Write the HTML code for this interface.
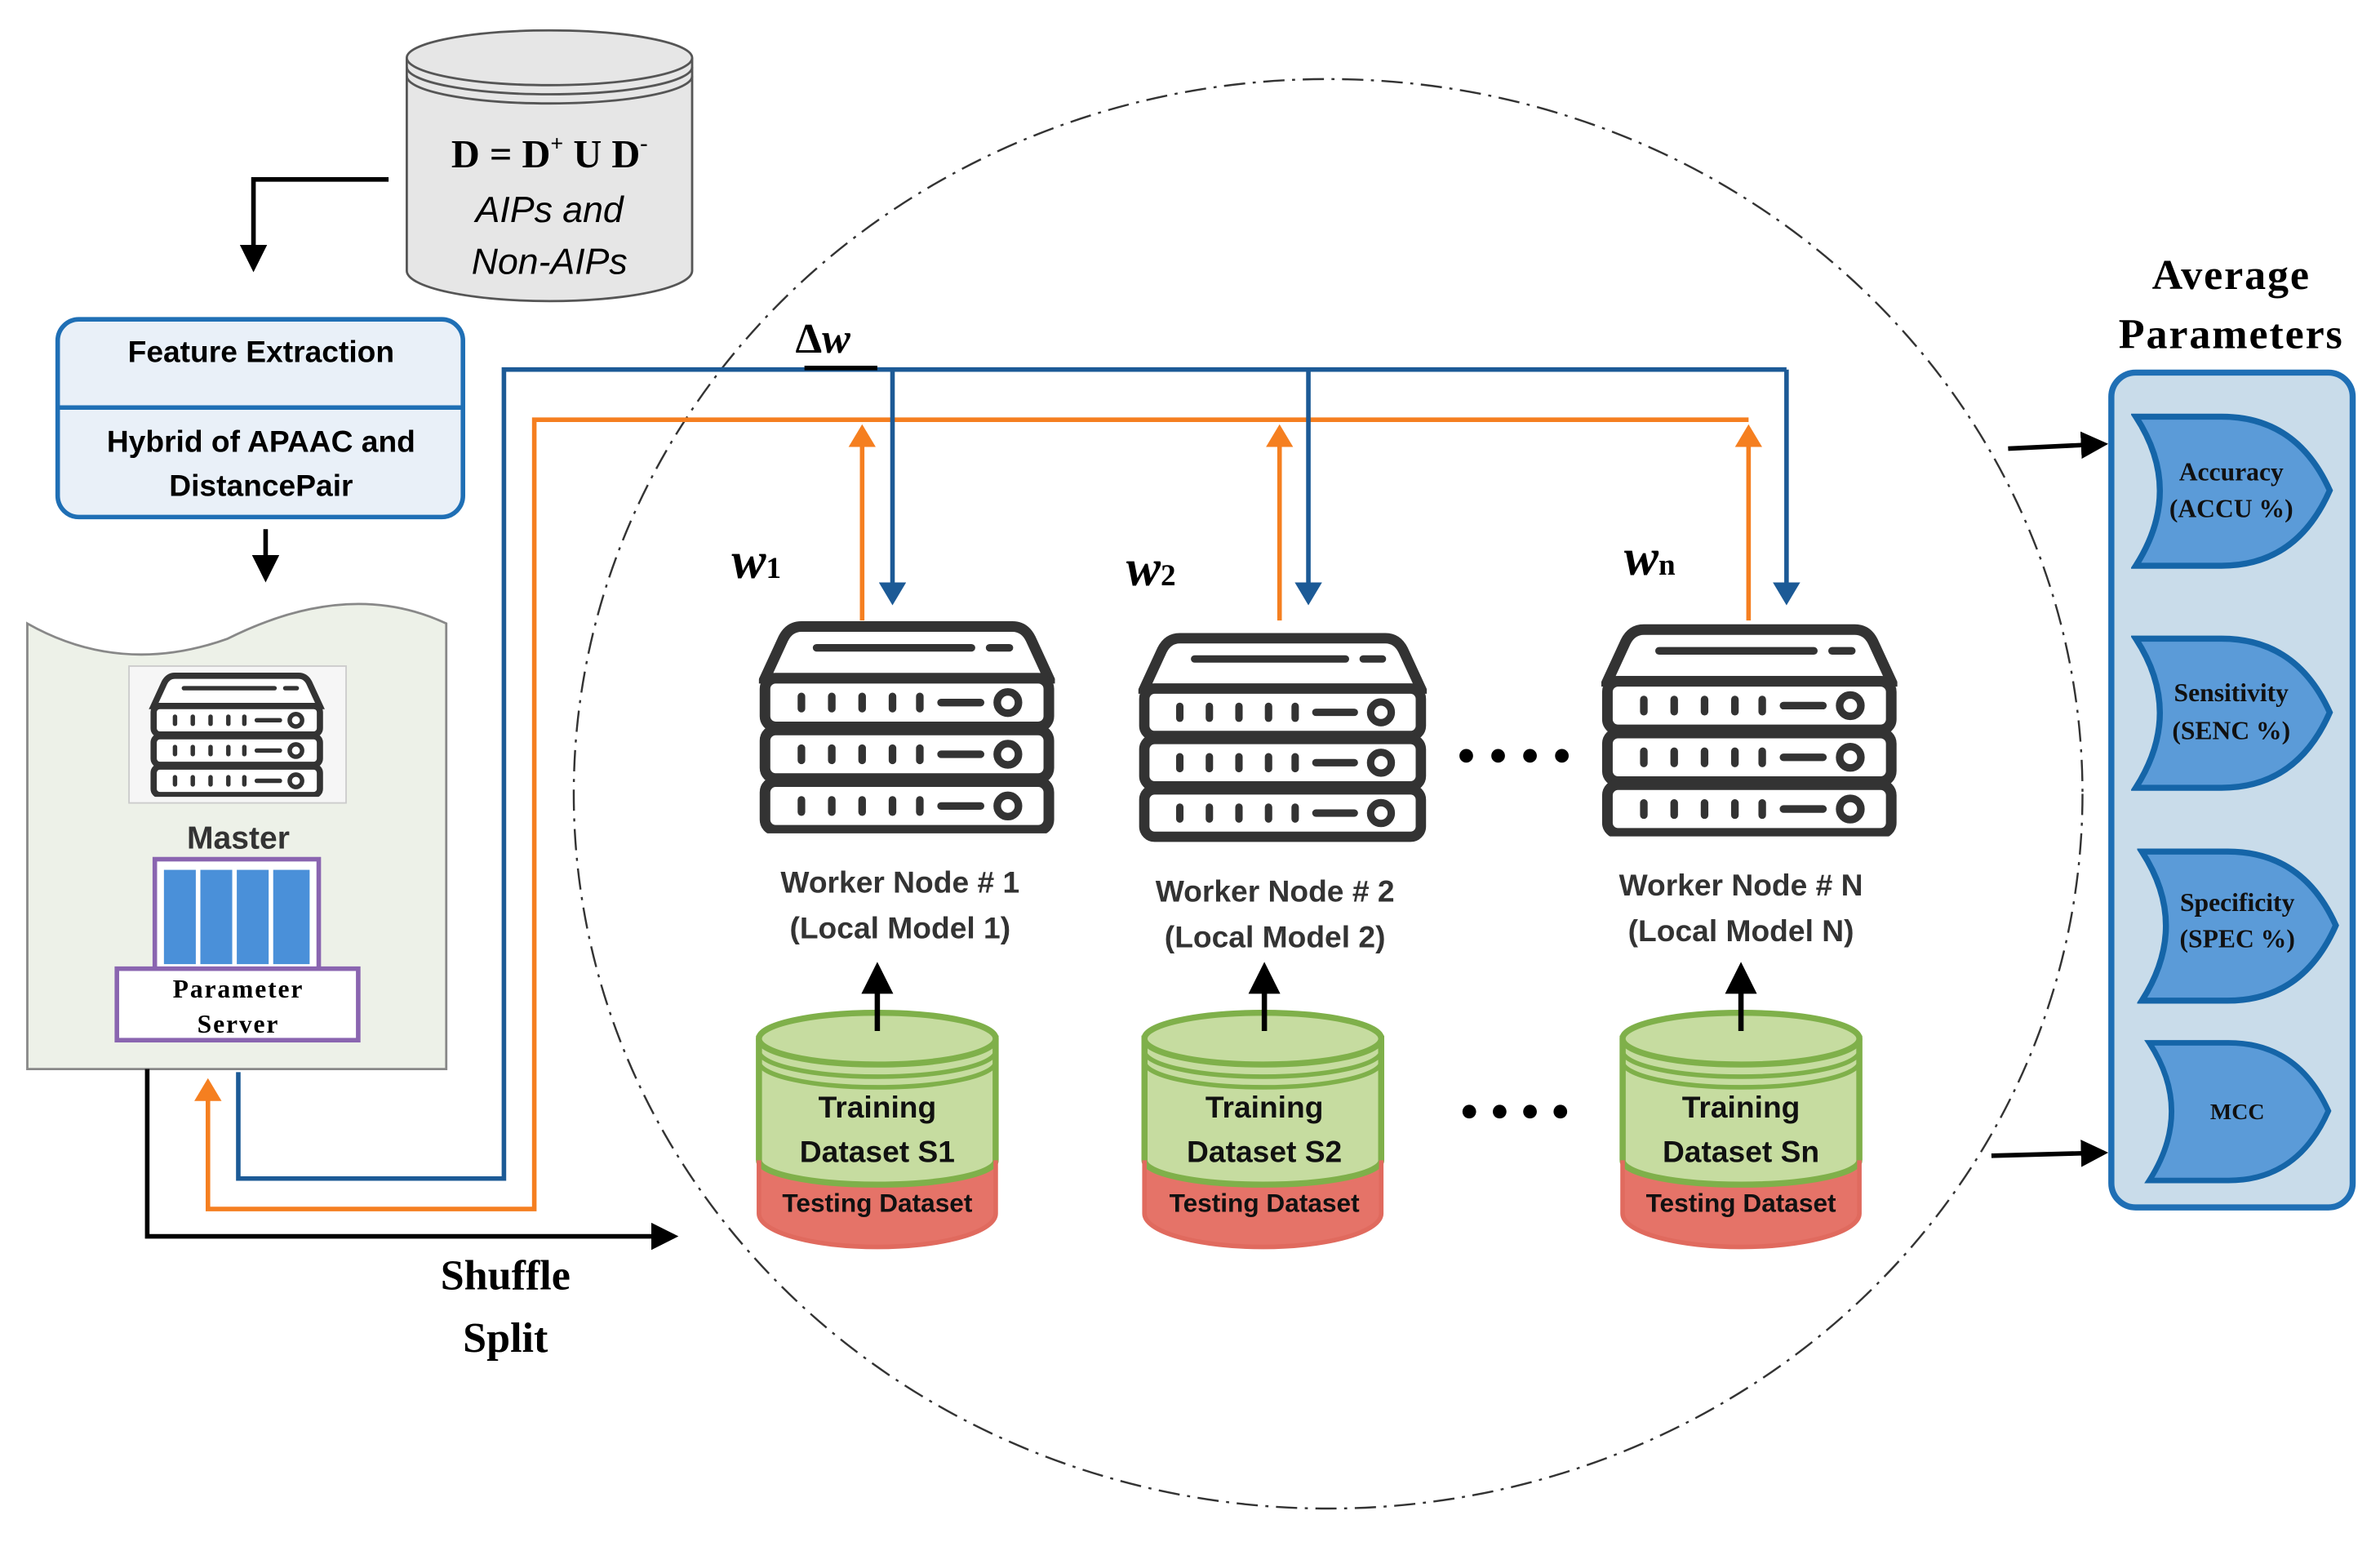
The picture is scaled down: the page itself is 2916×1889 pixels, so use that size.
<!DOCTYPE html>
<html><head><meta charset="utf-8"><style>
html,body{margin:0;padding:0;background:#fff}
svg{display:block}
text{font-family:"Liberation Sans",sans-serif}
.serif{font-family:"Liberation Serif",serif}
</style></head><body>
<svg width="2916" height="1889" viewBox="0 0 1568 1014" preserveAspectRatio="none" xmlns="http://www.w3.org/2000/svg">
<defs>
<marker id="ak" markerWidth="6" markerHeight="6" refX="5" refY="3" orient="auto" markerUnits="strokeWidth"><path d="M0,0 L6,3 L0,6 z" fill="#000"/></marker>
<marker id="ab" markerWidth="5" markerHeight="6" refX="4" refY="3" orient="auto" markerUnits="strokeWidth"><path d="M0,0 L5,3 L0,6 z" fill="#1c5a96"/></marker>
<marker id="ao" markerWidth="5" markerHeight="6" refX="4" refY="3" orient="auto" markerUnits="strokeWidth"><path d="M0,0 L5,3 L0,6 z" fill="#f57f20"/></marker>
<symbol id="srv" viewBox="0 0 195 140">
 <g fill="#fff" stroke="#333" stroke-width="7">
  <path d="M28,4 H167 Q175,4 179,12 L191,38 H4 L16,12 Q20,4 28,4 Z"/>
  <rect x="4" y="38" width="187" height="32" rx="7"/>
  <rect x="4" y="72" width="187" height="32" rx="7"/>
  <rect x="4" y="106" width="187" height="32" rx="7"/>
 </g>
 <g stroke="#333" stroke-width="5" stroke-linecap="round">
  <line x1="38" y1="18" x2="140" y2="18"/><line x1="152" y1="18" x2="165" y2="18"/>
  <g id="dl"><line x1="28" y1="50" x2="28" y2="58"/><line x1="48" y1="50" x2="48" y2="58"/><line x1="68" y1="50" x2="68" y2="58"/><line x1="88" y1="50" x2="88" y2="58"/><line x1="106" y1="50" x2="106" y2="58"/><line x1="120" y1="54" x2="146" y2="54"/></g>
  <use href="#dl" y="34"/><use href="#dl" y="68"/>
 </g>
 <g fill="none" stroke="#333" stroke-width="5"><circle cx="164" cy="54" r="7"/><circle cx="164" cy="88" r="7"/><circle cx="164" cy="122" r="7"/></g>
</symbol>
<symbol id="cyl" viewBox="0 0 160 160">
 <path d="M2,20 V135 A78,22 0 0 0 158,135 V20 Z" fill="#e57368"/>
 <path d="M2,20 V100 A78,16 0 0 0 158,100 V20 Z" fill="#c6dca0" stroke="#7fb04a" stroke-width="4"/>
 <path d="M2,20 V135 A78,22 0 0 0 158,135 V20" fill="none" stroke="#e06a5e" stroke-width="3"/>
 <path d="M2,20 V100" stroke="#7fb04a" stroke-width="4"/><path d="M158,20 V100" stroke="#7fb04a" stroke-width="4"/>
 <ellipse cx="80" cy="20" rx="78" ry="17" fill="#c6dca0" stroke="#7fb04a" stroke-width="4"/>
 <path d="M2,28 A78,17 0 0 0 158,28 M2,35 A78,17 0 0 0 158,35" fill="none" stroke="#7fb04a" stroke-width="3"/>
</symbol>
<symbol id="gate" viewBox="0 0 135 105">
 <path d="M3,3 H60 Q110,3 132,52 Q110,102 60,102 H3 Q35,52 3,3 Z" fill="#5b9bd8" stroke="#1565a8" stroke-width="4"/>
</symbol>
</defs>

<ellipse cx="875" cy="522" rx="497" ry="470" fill="none" stroke="#333" stroke-width="1.3" stroke-dasharray="14,5,2,5"/>

<path d="M268,38 V178 A94,20 0 0 0 456,178 V38" fill="#e6e6e6" stroke="#555" stroke-width="1.5"/>
<ellipse cx="362" cy="38" rx="94" ry="18" fill="#e6e6e6" stroke="#555" stroke-width="1.5"/>
<path d="M268,44 A94,18 0 0 0 456,44 M268,50 A94,18 0 0 0 456,50" fill="none" stroke="#555" stroke-width="1.5"/>
<text x="362" y="110" text-anchor="middle" class="serif" font-weight="bold" font-size="26">D = D<tspan font-size="15" dy="-11">+</tspan><tspan dy="11"> U D</tspan><tspan font-size="15" dy="-11">-</tspan></text>
<text x="362" y="146" text-anchor="middle" font-style="italic" font-size="24">AIPs and</text>
<text x="362" y="180" text-anchor="middle" font-style="italic" font-size="24">Non-AIPs</text>
<path d="M256,118 H167 V176" fill="none" stroke="#000" stroke-width="3" marker-end="url(#ak)"/>

<rect x="38" y="210" width="267" height="130" rx="14" fill="#e9f0f8" stroke="#1f6fb5" stroke-width="3"/>
<line x1="38" y1="268" x2="305" y2="268" stroke="#1f6fb5" stroke-width="3"/>
<text x="172" y="238" text-anchor="middle" font-weight="bold" font-size="20">Feature Extraction</text>
<text x="172" y="297" text-anchor="middle" font-weight="bold" font-size="20">Hybrid of APAAC and</text>
<text x="172" y="326" text-anchor="middle" font-weight="bold" font-size="20">DistancePair</text>
<line x1="175" y1="348" x2="175" y2="380" stroke="#000" stroke-width="3" marker-end="url(#ak)"/>

<path d="M18,410 Q80,445 150,420 Q230,380 294,410 V703 H18 Z" fill="#edf1e8" stroke="#888" stroke-width="1.5"/>
<rect x="85" y="438" width="143" height="90" fill="#f6f6f6" stroke="#ccc"/>
<use href="#srv" x="92" y="442" width="128" height="82"/>
<text x="157" y="558" text-anchor="middle" font-weight="bold" font-size="21" fill="#333">Master</text>
<rect x="102" y="565" width="108" height="73" fill="#fff" stroke="#8a65b0" stroke-width="3"/>
<rect x="108" y="572" width="21" height="62" fill="#4a90d9"/><rect x="132" y="572" width="21" height="62" fill="#4a90d9"/><rect x="156" y="572" width="21" height="62" fill="#4a90d9"/><rect x="180" y="572" width="24" height="62" fill="#4a90d9"/>
<rect x="77" y="637" width="159" height="47" fill="#fff" stroke="#8a65b0" stroke-width="3"/>
<text x="157" y="656" text-anchor="middle" class="serif" font-weight="bold" font-size="17" letter-spacing="1">Parameter</text>
<text x="157" y="679" text-anchor="middle" class="serif" font-weight="bold" font-size="17" letter-spacing="1">Server</text>

<path d="M97,703 V813 H444" fill="none" stroke="#000" stroke-width="3" marker-end="url(#ak)"/>
<path d="M1152,276 H352 V795 H137 V712" fill="none" stroke="#f57f20" stroke-width="3" marker-end="url(#ao)"/>
<path d="M157,705 V775 H332 V243 H1177" fill="none" stroke="#1c5a96" stroke-width="3"/>
<line x1="588" y1="243" x2="588" y2="395" stroke="#1c5a96" stroke-width="3" marker-end="url(#ab)"/>
<line x1="862" y1="243" x2="862" y2="395" stroke="#1c5a96" stroke-width="3" marker-end="url(#ab)"/>
<line x1="1177" y1="243" x2="1177" y2="395" stroke="#1c5a96" stroke-width="3" marker-end="url(#ab)"/>
<line x1="568" y1="408" x2="568" y2="282" stroke="#f57f20" stroke-width="3" marker-end="url(#ao)"/>
<line x1="843" y1="408" x2="843" y2="282" stroke="#f57f20" stroke-width="3" marker-end="url(#ao)"/>
<line x1="1152" y1="408" x2="1152" y2="282" stroke="#f57f20" stroke-width="3" marker-end="url(#ao)"/>
<line x1="530" y1="242" x2="578" y2="242" stroke="#000" stroke-width="3"/>
<text x="524" y="232" class="serif" font-weight="bold" font-size="28">Δ<tspan font-style="italic">w</tspan></text>

<text x="482" y="380" class="serif" font-weight="bold" font-style="italic" font-size="34">w<tspan font-size="20" font-style="normal">1</tspan></text>
<text x="742" y="385" class="serif" font-weight="bold" font-style="italic" font-size="34">w<tspan font-size="20" font-style="normal">2</tspan></text>
<text x="1070" y="378" class="serif" font-weight="bold" font-style="italic" font-size="34">w<tspan font-size="20" font-style="normal">n</tspan></text>

<use href="#srv" x="500" y="408" width="195" height="140"/>
<use href="#srv" x="750" y="414" width="190" height="140"/>
<use href="#srv" x="1055" y="410" width="195" height="140"/>
<g fill="#333" font-weight="bold" font-size="20" text-anchor="middle">
<text x="593" y="587">Worker Node # 1</text><text x="593" y="617">(Local Model 1)</text>
<text x="840" y="593">Worker Node # 2</text><text x="840" y="623">(Local Model 2)</text>
<text x="1147" y="589">Worker Node # N</text><text x="1147" y="619">(Local Model N)</text>
</g>
<g fill="#000">
<circle cx="966" cy="497" r="4.5"/><circle cx="987" cy="497" r="4.5"/><circle cx="1008" cy="497" r="4.5"/><circle cx="1029" cy="497" r="4.5"/>
<circle cx="968" cy="731" r="4.5"/><circle cx="988" cy="731" r="4.5"/><circle cx="1008" cy="731" r="4.5"/><circle cx="1028" cy="731" r="4.5"/>
</g>

<use href="#cyl" x="498" y="663" width="160" height="160"/>
<use href="#cyl" x="752" y="663" width="160" height="160"/>
<use href="#cyl" x="1067" y="663" width="160" height="160"/>
<line x1="578" y1="678" x2="578" y2="636" stroke="#000" stroke-width="3.5" marker-end="url(#ak)"/>
<line x1="833" y1="678" x2="833" y2="636" stroke="#000" stroke-width="3.5" marker-end="url(#ak)"/>
<line x1="1147" y1="678" x2="1147" y2="636" stroke="#000" stroke-width="3.5" marker-end="url(#ak)"/>
<g font-weight="bold" text-anchor="middle" fill="#111">
<text x="578" y="735" font-size="20">Training</text><text x="578" y="764" font-size="20">Dataset S1</text><text x="578" y="797" font-size="17">Testing Dataset</text>
<text x="833" y="735" font-size="20">Training</text><text x="833" y="764" font-size="20">Dataset S2</text><text x="833" y="797" font-size="17">Testing Dataset</text>
<text x="1147" y="735" font-size="20">Training</text><text x="1147" y="764" font-size="20">Dataset Sn</text><text x="1147" y="797" font-size="17">Testing Dataset</text>
</g>

<text x="333" y="848" text-anchor="middle" class="serif" font-weight="bold" font-size="28">Shuffle</text>
<text x="333" y="889" text-anchor="middle" class="serif" font-weight="bold" font-size="28">Split</text>

<text x="1470" y="190" text-anchor="middle" class="serif" font-weight="bold" font-size="28" letter-spacing="1">Average</text>
<text x="1470" y="229" text-anchor="middle" class="serif" font-weight="bold" font-size="28" letter-spacing="1">Parameters</text>
<rect x="1391" y="245" width="159" height="549" rx="16" fill="#c9dcea" stroke="#1f6fb5" stroke-width="4"/>
<use href="#gate" x="1404" y="271" width="134" height="104"/>
<use href="#gate" x="1404" y="417" width="134" height="104"/>
<use href="#gate" x="1408" y="557" width="134" height="104"/>
<use href="#gate" x="1412" y="683" width="126" height="96"/>
<g class="serif" font-weight="bold" font-size="17" text-anchor="middle" fill="#111">
<text x="1470" y="316" class="serif">Accuracy</text><text x="1470" y="340" class="serif">(ACCU %)</text>
<text x="1470" y="461" class="serif">Sensitivity</text><text x="1470" y="486" class="serif">(SENC %)</text>
<text x="1474" y="599" class="serif">Specificity</text><text x="1474" y="623" class="serif">(SPEC %)</text>
<text x="1474" y="736" class="serif" font-size="15">MCC</text>
</g>
<line x1="1323" y1="295" x2="1386" y2="292" stroke="#000" stroke-width="3" marker-end="url(#ak)"/>
<line x1="1312" y1="760" x2="1386" y2="758" stroke="#000" stroke-width="3" marker-end="url(#ak)"/>
</svg>
</body></html>
